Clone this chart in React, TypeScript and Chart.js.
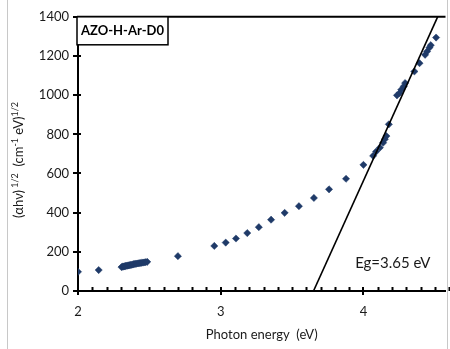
import React, { useEffect, useRef } from 'react';
import { Chart, registerables } from 'chart.js';

Chart.register(...registerables);

// Tauc plot data: photon energy (eV) vs (αhν)^1/2
const photonEnergy = [
  2.0, 2.145,
  2.305, 2.312, 2.318, 2.324, 2.33, 2.336, 2.342, 2.349, 2.355, 2.362, 2.369, 2.376,
  2.383, 2.39, 2.398, 2.405, 2.413, 2.421, 2.429, 2.437, 2.446, 2.455, 2.464, 2.474, 2.485,
  2.7, 2.955, 3.035, 3.107, 3.186, 3.267, 3.353, 3.448, 3.548, 3.653, 3.759, 3.878,
  4.0, 4.068, 4.089, 4.115, 4.138, 4.15, 4.161, 4.178,
  4.235, 4.253, 4.265, 4.283, 4.292,
  4.357, 4.393, 4.432, 4.446, 4.463, 4.472, 4.509,
];
const tauc = [
  98, 107,
  122, 124, 125, 126, 127, 128, 129, 130, 131, 132, 133, 134,
  135, 137, 138, 139, 140, 141, 142, 143, 144, 145, 146, 147, 149,
  178, 230, 247, 268, 296, 326, 364, 399, 433, 475, 519, 573,
  644, 690, 712, 732, 757, 775, 791, 851,
  999, 1011, 1028, 1045, 1062,
  1121, 1163, 1206, 1223, 1243, 1255, 1294,
];

// Linear extrapolation of the absorption edge
const fitEnergy = [3.65, 4.52];
const fitValue = [0, 1400];

const xMin = 2;
const xMax = 4.575;
const xMajorTicks = [2, 3, 4];
const xMinorStep = 0.1;
const yMin = 0;
const yMax = 1400;
const yTickStep = 200;

const sampleName = 'AZO-H-Ar-D0';
const bandGapLabel = 'Eg=3.65 eV';
const xTitle = 'Photon energy  (eV)';
const yTitleParts: { text: string; sup: boolean }[] = [
  { text: '(αhν)', sup: false },
  { text: ' 1/2', sup: true },
  { text: '  (cm', sup: false },
  { text: '-1', sup: true },
  { text: ' eV)', sup: false },
  { text: '1/2', sup: true },
];

const FONT = 'Lato, Carlito, "Liberation Sans", sans-serif';
const MARKER = '#1f3a68';
const TEXT = '#1a1a1a';

const annotations = {
  id: 'annotations',
  afterDraw(chart: any) {
    const { ctx, chartArea } = chart;
    const xs = chart.scales.x;
    const ys = chart.scales.y;
    const { left, right, top, bottom } = chartArea;
    ctx.save();

    // top frame line
    ctx.strokeStyle = '#000';
    ctx.lineWidth = 2;
    ctx.beginPath();
    ctx.moveTo(left - 1, top);
    ctx.lineTo(right, top);
    ctx.stroke();

    // x minor ticks (pointing inward)
    const nMinor = Math.round((xMax - xMin) / xMinorStep);
    ctx.beginPath();
    for (let i = 1; i <= nMinor; i++) {
      const v = xMin + i * xMinorStep;
      if (xMajorTicks.some((m) => Math.abs(m - v) < 1e-6)) continue;
      const px = Math.round(xs.getPixelForValue(v)) + 0.5;
      ctx.moveTo(px, bottom);
      ctx.lineTo(px, bottom - 4);
    }
    ctx.lineWidth = 2;
    ctx.stroke();

    // x major ticks (crossing)
    ctx.beginPath();
    for (const m of xMajorTicks) {
      const px = Math.round(xs.getPixelForValue(m));
      ctx.moveTo(px, bottom - 4);
      ctx.lineTo(px, bottom + 4);
    }
    ctx.stroke();

    // y major ticks (crossing)
    ctx.beginPath();
    for (let v = yMin; v <= yMax; v += yTickStep) {
      const py = Math.round(ys.getPixelForValue(v));
      ctx.moveTo(left - 5, py);
      ctx.lineTo(left + 3, py);
    }
    ctx.stroke();

    // sample label box
    ctx.fillStyle = '#fff';
    ctx.fillRect(left - 1, top, 91, 28);
    ctx.lineWidth = 1.5;
    ctx.strokeRect(left - 1, top, 91, 28);
    ctx.fillStyle = '#000';
    ctx.font = `bold 13px ${FONT}`;
    ctx.textAlign = 'center';
    ctx.textBaseline = 'middle';
    ctx.fillText(sampleName, left - 1 + 45.5, top + 14);

    // band gap label
    ctx.fillStyle = TEXT;
    ctx.font = `15px ${FONT}`;
    ctx.textAlign = 'right';
    ctx.fillText(bandGapLabel, right - 15, bottom - 28);

    // y axis title with superscripts
    const main = `13px ${FONT}`;
    const sup = `9px ${FONT}`;
    let total = 0;
    for (const p of yTitleParts) {
      ctx.font = p.sup ? sup : main;
      total += ctx.measureText(p.text).width;
    }
    ctx.translate(18, (top + bottom) / 2 + 6);
    ctx.rotate(-Math.PI / 2);
    ctx.textAlign = 'left';
    ctx.textBaseline = 'alphabetic';
    let x = -total / 2;
    for (const p of yTitleParts) {
      ctx.font = p.sup ? sup : main;
      ctx.fillText(p.text, x, p.sup ? 0 : 5);
      x += ctx.measureText(p.text).width;
    }
    ctx.restore();
  },
};

export default function App() {
  const canvasRef = useRef<HTMLCanvasElement | null>(null);

  useEffect(() => {
    const canvas = canvasRef.current;
    if (!canvas) return;
    const chart = new Chart(canvas, {
      type: 'scatter',
      data: {
        datasets: [
          {
            type: 'line',
            data: fitEnergy.map((e, i) => ({ x: e, y: fitValue[i] })),
            borderColor: '#000',
            borderWidth: 1.6,
            pointRadius: 0,
            fill: false,
            order: 0,
          },
          {
            type: 'scatter',
            data: photonEnergy.map((e, i) => ({ x: e, y: tauc[i] })),
            pointStyle: 'rectRot',
            pointRadius: 3.6,
            backgroundColor: MARKER,
            borderColor: MARKER,
            borderWidth: 0.5,
            order: 1,
          },
        ],
      },
      options: {
        responsive: false,
        animation: false,
        layout: { padding: { top: 15, right: 2, left: 0, bottom: 0 } },
        plugins: { legend: { display: false }, tooltip: { enabled: false } },
        scales: {
          x: {
            type: 'linear',
            min: xMin,
            max: xMax,
            afterBuildTicks: (s: any) => {
              s.ticks = xMajorTicks.map((v) => ({ value: v }));
            },
            afterFit: (s: any) => {
              s.height = 58;
            },
            grid: { display: false, drawTicks: false },
            border: { display: true, color: '#000', width: 2 },
            ticks: {
              padding: 13,
              color: TEXT,
              font: { family: FONT, size: 13 },
              maxRotation: 0,
              callback: (v: any) => String(v),
            },
            title: {
              display: true,
              text: xTitle,
              color: TEXT,
              font: { family: FONT, size: 13 },
              padding: { top: 0, bottom: 6 },
            },
          },
          y: {
            type: 'linear',
            min: yMin,
            max: yMax,
            afterFit: (s: any) => {
              s.width = 78;
            },
            grid: { display: false, drawTicks: false },
            border: { display: true, color: '#000', width: 2 },
            ticks: {
              stepSize: yTickStep,
              padding: 9,
              color: TEXT,
              font: { family: FONT, size: 13 },
              callback: (v: any) => String(v),
            },
          },
        },
      },
      plugins: [annotations],
    });
    return () => chart.destroy();
  }, []);

  return (
    <div style={{ position: 'fixed', left: 0, top: 0, width: 450, height: 349, background: '#fff' }}>
      <div
        style={{
          position: 'absolute',
          left: 7,
          top: 0,
          width: 439,
          height: 349,
          borderLeft: '1px solid #c8c8c8',
          borderRight: '1px solid #c8c8c8',
        }}
      />
      <canvas
        ref={canvasRef}
        width={450}
        height={349}
        style={{ position: 'absolute', left: 0, top: 0, width: 450, height: 349 }}
      />
    </div>
  );
}
